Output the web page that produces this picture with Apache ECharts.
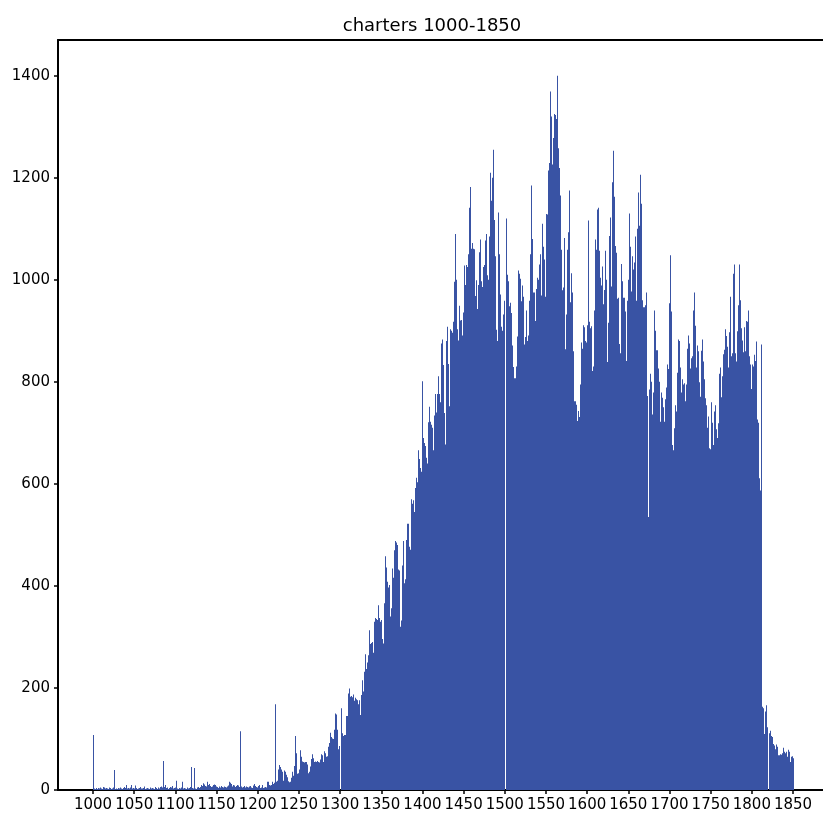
<!DOCTYPE html>
<html>
<head>
<meta charset="utf-8">
<title>charters 1000-1850</title>
<script src="https://cdn.jsdelivr.net/npm/echarts@6/dist/echarts.min.js"></script>
<style>
  html, body { margin: 0; padding: 0; background: #fff; }
  #chart { width: 823px; height: 813px; }
</style>
</head>
<body>
<div id="chart"></div>
<script>
// charters per year, one array per century
const firstYear = 1000;

const counts1000s = [
  108, 3, 2, 4, 3, 2, 4, 3, 5, 4,
  3, 2, 6, 5, 3, 2, 4, 3, 2, 5,
  3, 4, 2, 3, 5, 39, 4, 2, 3, 2,
  4, 3, 2, 5, 3, 2, 4, 3, 6, 4,
  10, 3, 2, 4, 3, 5, 10, 3, 2, 4,
  3, 9, 4, 2, 3, 2, 4, 6, 3, 2,
  3, 4, 7, 2, 3, 2, 4, 3, 2, 5,
  3, 2, 4, 3, 2, 6, 3, 4, 2, 5,
  3, 6, 4, 7, 5, 57, 6, 10, 4, 3,
  5, 2, 4, 6, 3, 5, 8, 3, 4, 2
];
const counts1100s = [
  5, 18, 3, 2, 4, 3, 2, 5, 16, 3,
  2, 4, 3, 2, 5, 3, 4, 2, 6, 45,
  4, 3, 43, 4, 3, 2, 5, 6, 3, 4,
  6, 10, 8, 13, 9, 11, 8, 7, 16, 10,
  9, 12, 8, 6, 7, 5, 10, 11, 10, 7,
  5, 6, 4, 7, 5, 8, 6, 4, 5, 7,
  6, 4, 5, 7, 9, 16, 14, 12, 8, 7,
  10, 9, 6, 7, 8, 10, 9, 6, 8, 115,
  7, 5, 6, 8, 4, 5, 7, 6, 5, 7,
  8, 6, 5, 4, 9, 10, 12, 8, 6, 5
];
const counts1200s = [
  8, 10, 6, 4, 5, 10, 4, 5, 4, 6,
  5, 16, 16, 14, 10, 9, 10, 16, 12, 10,
  14, 168, 16, 18, 32, 40, 49, 45, 40, 36,
  22, 18, 38, 36, 30, 25, 18, 17, 15, 16,
  24, 36, 30, 28, 47, 106, 72, 59, 32, 33,
  40, 78, 65, 60, 56, 55, 54, 55, 52, 55,
  50, 33, 36, 46, 44, 61, 70, 62, 55, 56,
  39, 55, 57, 55, 54, 58, 60, 70, 68, 55,
  60, 76, 72, 65, 66, 85, 86, 92, 112, 104,
  101, 100, 110, 118, 150, 148, 118, 72, 80, 86
];
const counts1300s = [
  0, 160, 111, 106, 91, 108, 108, 145, 145, 146,
  189, 199, 183, 184, 182, 175, 187, 175, 181, 178,
  176, 175, 168, 176, 147, 186, 215, 200, 193, 232,
  266, 228, 237, 250, 264, 313, 286, 288, 286, 290,
  269, 330, 337, 335, 332, 333, 362, 337, 326, 330,
  333, 296, 287, 366, 458, 440, 436, 408, 397, 402,
  333, 340, 356, 434, 416, 416, 470, 488, 485, 480,
  432, 430, 313, 320, 332, 440, 488, 399, 405, 413,
  490, 522, 522, 520, 477, 471, 570, 561, 568, 539,
  545, 592, 612, 603, 666, 650, 649, 631, 624, 674
];
const counts1400s = [
  801, 690, 680, 674, 651, 610, 640, 721, 751, 722,
  716, 710, 701, 666, 734, 776, 737, 740, 776, 811,
  776, 760, 872, 875, 883, 833, 739, 677, 860, 880,
  908, 835, 752, 801, 903, 900, 896, 918, 996, 1090,
  1085, 1000, 903, 881, 949, 917, 920, 921, 891, 936,
  1028, 963, 990, 1029, 1025, 1050, 1090, 1141, 1182, 1061,
  1072, 1061, 1058, 1060, 968, 999, 943, 932, 990, 1054,
  1079, 997, 986, 1000, 1025, 1029, 1077, 1090, 1009, 953,
  1000, 1085, 1210, 1155, 1186, 1200, 1255, 1117, 1046, 902,
  864, 880, 1132, 1050, 971, 908, 864, 900, 932, 959
];
const counts1500s = [
  0, 1120, 1020, 1010, 997, 948, 955, 929, 935, 871,
  829, 807, 807, 810, 830, 889, 1018, 1012, 1002, 1000,
  958, 989, 967, 873, 880, 888, 940, 880, 891, 959,
  1040, 1050, 1185, 1080, 975, 971, 975, 919, 982, 1004,
  1000, 1030, 1025, 1050, 969, 1110, 1065, 1040, 999, 967,
  1129, 1128, 1214, 1200, 1229, 1369, 1320, 1226, 1278, 1270,
  1325, 1323, 1315, 1400, 1258, 1250, 1219, 1165, 1059, 979,
  979, 985, 1082, 864, 932, 1059, 1050, 1093, 1175, 956,
  1013, 971, 975, 860, 762, 762, 752, 755, 723, 743,
  731, 795, 877, 870, 865, 911, 907, 880, 850, 877
];
const counts1600s = [
  911, 1116, 918, 905, 895, 909, 821, 830, 940, 952,
  1079, 1059, 1138, 1141, 1057, 1040, 1004, 989, 1026, 952,
  963, 980, 1057, 1000, 839, 916, 1050, 1086, 1122, 987,
  1191, 1253, 1200, 1163, 1066, 1053, 963, 965, 940, 874,
  856, 1031, 997, 965, 960, 965, 938, 841, 864, 959,
  1000, 1130, 1065, 977, 1046, 1014, 1020, 1034, 1085, 959,
  1065, 1100, 1171, 1106, 1206, 1149, 983, 960, 946, 946,
  950, 975, 960, 772, 535, 785, 816, 800, 752, 736,
  779, 940, 900, 864, 862, 862, 826, 800, 722, 670,
  779, 769, 750, 722, 766, 764, 789, 834, 825, 813
];
const counts1700s = [
  954, 1048, 938, 676, 666, 690, 709, 754, 742, 818,
  883, 880, 871, 828, 779, 805, 791, 795, 797, 762,
  795, 865, 891, 885, 875, 826, 846, 850, 934, 940,
  975, 910, 828, 846, 871, 860, 799, 771, 861, 883,
  850, 840, 805, 768, 754, 697, 710, 732, 670, 668,
  760, 734, 720, 676, 742, 754, 707, 676, 690, 719,
  816, 828, 750, 770, 811, 854, 863, 875, 903, 890,
  869, 828, 897, 967, 846, 850, 856, 1012, 1030, 856,
  850, 840, 899, 950, 1030, 971, 960, 905, 881, 858,
  889, 907, 860, 919, 918, 940, 702, 850, 834, 786
];
const counts1800s = [
  834, 830, 755, 853, 841, 879, 726, 720, 589, 611,
  587, 873, 163, 160, 147, 110, 154, 166, 123, 120,
  0, 111, 116, 106, 104, 99, 90, 87, 80, 89,
  85, 83, 68, 68, 70, 69, 68, 72, 83, 75,
  72, 73, 75, 65, 79, 75, 55, 58, 65, 66,
  62
];

const yearTicks = [1000, 1050, 1100, 1150, 1200, 1250, 1300, 1350, 1400,
  1450, 1500, 1550, 1600, 1650, 1700, 1750, 1800, 1850];
const countTicks = [0, 200, 400, 600, 800, 1000, 1200, 1400];

const counts = [].concat(counts1000s, counts1100s, counts1200s, counts1300s,
  counts1400s, counts1500s, counts1600s, counts1700s, counts1800s);
const bars = counts.map((v, i) => [firstYear + i, v]);

const font = 'DejaVu Sans';
const barColor = '#3953a4';
const xMin = 957.45;
const xMax = 1886.4;   // plot runs off the right edge of the picture

// one-year bin -> rect; edges snapped to whole pixels so neighbours don't leave seams
function renderBar(params, api) {
  const year = api.value(0);
  const n = api.value(1);
  if (!n) return null;
  const top = api.coord([year, n]);
  const base = api.coord([year + 1, 0]);
  const x0 = Math.round(top[0]);
  let x1 = Math.round(base[0]);
  if (x1 <= x0) x1 = x0 + 1;
  return {
    type: 'rect',
    shape: {x: x0, y: top[1], width: x1 - x0, height: base[1] - top[1]},
    style: {fill: barColor}
  };
}

const chart = echarts.init(document.getElementById('chart'));
chart.setOption({
  animation: false,
  title: {
    text: 'charters 1000-1850',
    left: 427,
    top: 12,
    textAlign: 'center',
    textStyle: {fontSize: 18, fontWeight: 'normal', color: '#000', fontFamily: font}
  },
  grid: {left: 58, right: 0, top: 40, bottom: 23},
  xAxis: [{
    type: 'value',
    min: xMin,
    max: xMax,
    axisLine: {show: true, onZero: false, lineStyle: {color: '#000', width: 2}},
    axisTick: {show: true, customValues: yearTicks, length: 4, lineStyle: {color: '#000', width: 1.5}},
    axisLabel: {
      customValues: yearTicks, color: '#000', fontSize: 15, fontFamily: font, margin: 8,
      formatter: v => String(v)
    },
    splitLine: {show: false}
  }, {
    // top spine only
    type: 'value',
    position: 'top',
    min: xMin,
    max: xMax,
    axisLine: {show: true, onZero: false, lineStyle: {color: '#000', width: 2}},
    axisTick: {show: false},
    axisLabel: {show: false},
    splitLine: {show: false}
  }],
  yAxis: {
    type: 'value',
    min: 0,
    max: 1470,
    axisLine: {show: true, onZero: false, lineStyle: {color: '#000', width: 2}},
    axisTick: {show: true, customValues: countTicks, length: 4, lineStyle: {color: '#000', width: 1.5}},
    axisLabel: {
      customValues: countTicks, color: '#000', fontSize: 15, fontFamily: font, margin: 8,
      formatter: v => String(v)
    },
    splitLine: {show: false}
  },
  series: [{
    type: 'custom',
    xAxisIndex: 0,
    data: bars,
    renderItem: renderBar,
    silent: true,
    z: 1
  }]
});
</script>
</body>
</html>
